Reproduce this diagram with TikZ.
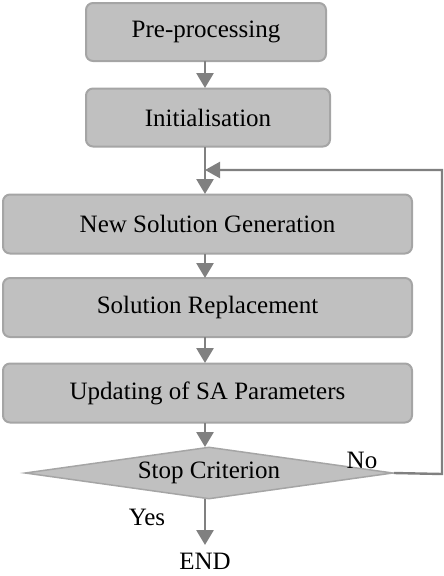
\documentclass[tikz,border=0pt]{standalone}
\usepackage{fontspec}
\setmainfont{Liberation Serif}
\usetikzlibrary{shapes.geometric,arrows.meta}
\definecolor{boxfill}{RGB}{192,192,192}
\definecolor{boxline}{RGB}{165,165,165}
\definecolor{arr}{RGB}{128,128,128}
\begin{document}
\begin{tikzpicture}[x=1pt,y=-1pt,
  stepbox/.style={draw=boxline,fill=boxfill,line width=2pt,rounded corners=7pt,font=\fontsize{25}{28}\selectfont,inner sep=0pt},
  flow/.style={draw=arr,line width=2.8pt,-{Triangle[length=15pt,width=17pt]}},
  lbl/.style={font=\fontsize{25}{28}\selectfont,inner sep=0pt}]
\useasboundingbox (0,0) rectangle (444,576);
\node[stepbox,minimum width=240pt,minimum height=58pt] (pre) at (206,32) {Pre-processing};
\node[stepbox,minimum width=244pt,minimum height=58pt] (init) at (208,117.5) {Initialisation};
\node[stepbox,minimum width=409pt,minimum height=59pt] (nsg) at (207.5,224) {New Solution Generation};
\node[stepbox,minimum width=409pt,minimum height=59pt] (sr) at (207.5,307.5) {Solution Replacement};
\node[stepbox,minimum width=409pt,minimum height=59pt] (upd) at (207.5,393) {Updating of SA Parameters};
\node[draw=boxline,fill=boxfill,line width=1.5pt,diamond,aspect=7,minimum width=368pt,minimum height=52pt,inner sep=0pt,font=\fontsize{25}{28}\selectfont] (stop) at (209,473) {Stop Criterion};
\node[lbl] (end) at (205,561.5) {END};
\node[lbl] (yes) at (147,517) {Yes};
\node[lbl] (no) at (362,460) {No};
\coordinate (join) at (205,170);
\coordinate (c1) at (442,474);
\coordinate (c2) at (442,170);
\draw[flow] (205,61) -- (205,88);
\draw[flow] (205,147) -- (205,194);
\draw[flow] (205,254) -- (205,278);
\draw[flow] (205,337) -- (205,363);
\draw[flow] (205,423) -- (205,447);
\draw[flow] (205,499) -- (205,545);
\draw[draw=arr,line width=2.4pt,-{Triangle[length=15pt,width=16pt]}] (stop.east) -- (c1) -- (c2) -- (join);
\end{tikzpicture}
\end{document}
